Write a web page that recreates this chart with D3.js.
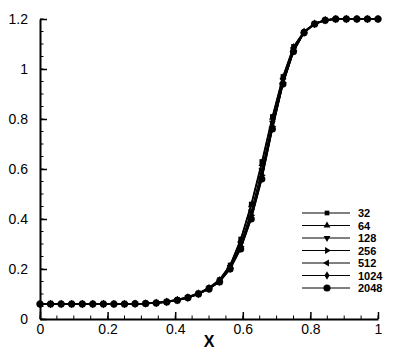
<!DOCTYPE html>
<html><head><meta charset="utf-8">
<script src="https://cdn.jsdelivr.net/npm/d3@7"></script>
<style>body{margin:0;background:#fff}svg{display:block}</style>
</head><body>
<svg id="c" width="399" height="355"></svg>
<script>
const xValues = [0,0.03125,0.0625,0.09375,0.125,0.15625,0.1875,0.21875,0.25,0.28125,0.3125,0.34375,0.375,0.40625,0.4375,0.46875,0.5,0.53125,0.5625,0.59375,0.625,0.65625,0.6875,0.71875,0.75,0.78125,0.8125,0.84375,0.875,0.90625,0.9375,0.96875,1];
const seriesNames = ["32","64","128","256","512","1024","2048"];
const s32   = [0.06,0.06,0.06,0.06,0.06,0.06,0.06,0.06,0.06,0.061,0.062,0.065,0.07,0.078,0.088,0.104,0.126,0.158,0.216,0.32,0.46,0.63,0.81,0.97,1.09,1.15,1.182,1.196,1.2,1.2,1.2,1.2,1.2];
const s64   = [0.06,0.06,0.06,0.06,0.06,0.06,0.06,0.06,0.06,0.061,0.062,0.065,0.07,0.077,0.087,0.103,0.125,0.156,0.213,0.315,0.455,0.62,0.805,0.967,1.088,1.15,1.182,1.196,1.2,1.2,1.2,1.2,1.2];
const s128  = [0.06,0.06,0.06,0.06,0.06,0.06,0.06,0.06,0.06,0.061,0.062,0.064,0.069,0.076,0.086,0.102,0.123,0.153,0.208,0.30,0.43,0.595,0.785,0.955,1.08,1.148,1.181,1.196,1.2,1.2,1.2,1.2,1.2];
const s256  = [0.06,0.06,0.06,0.06,0.06,0.06,0.06,0.06,0.06,0.061,0.062,0.064,0.068,0.075,0.085,0.101,0.121,0.151,0.204,0.29,0.415,0.575,0.77,0.945,1.073,1.146,1.18,1.195,1.2,1.2,1.2,1.2,1.2];
const s512  = [0.06,0.06,0.06,0.06,0.06,0.06,0.06,0.06,0.06,0.061,0.062,0.064,0.068,0.075,0.085,0.1,0.12,0.15,0.202,0.285,0.408,0.567,0.765,0.942,1.071,1.145,1.18,1.195,1.2,1.2,1.2,1.2,1.2];
const s1024 = [0.06,0.06,0.06,0.06,0.06,0.06,0.06,0.06,0.06,0.061,0.062,0.064,0.068,0.075,0.085,0.1,0.12,0.149,0.201,0.282,0.403,0.562,0.762,0.94,1.07,1.145,1.18,1.195,1.2,1.2,1.2,1.2,1.2];
const s2048 = [0.06,0.06,0.06,0.06,0.06,0.06,0.06,0.06,0.06,0.061,0.062,0.064,0.068,0.075,0.085,0.1,0.12,0.148,0.2,0.28,0.40,0.56,0.76,0.94,1.07,1.145,1.18,1.195,1.2,1.2,1.2,1.2,1.2];
const seriesValues = [s32,s64,s128,s256,s512,s1024,s2048];
const xTickLabels = ["0","0.2","0.4","0.6","0.8","1"];
const yTickLabels = ["0","0.2","0.4","0.6","0.8","1","1.2"];
const xLabel = "X";

const svg = d3.select("#c");
const x = d3.scaleLinear().domain([0,1]).range([40,378]);
const y = d3.scaleLinear().domain([0,1.2]).range([319,19]);
const font = "'Liberation Sans', Arial, Helvetica, sans-serif";

// minor ticks
const minor = d3.range(0,1.0001,0.05);
const minorY = d3.range(0,1.2001,0.05);
const gx = svg.append("g").attr("transform","translate(0,319)");
gx.selectAll("line.mn").data(minor).enter().append("line")
  .attr("x1",d=>x(d)).attr("x2",d=>x(d)).attr("y1",0).attr("y2",-3.5)
  .attr("stroke","#000").attr("stroke-width",1);
const gy = svg.append("g").attr("transform","translate(40,0)");
gy.selectAll("line.mn").data(minorY).enter().append("line")
  .attr("y1",d=>y(d)).attr("y2",d=>y(d)).attr("x1",0).attr("x2",3.5)
  .attr("stroke","#000").attr("stroke-width",1);

const xAxis = d3.axisBottom(x).tickValues(xTickLabels.map(Number)).tickFormat((d,i)=>xTickLabels[i])
  .tickSizeInner(-7).tickSizeOuter(0).tickPadding(5);
gx.call(xAxis);
const yAxis = d3.axisLeft(y).tickValues(yTickLabels.map(Number)).tickFormat((d,i)=>yTickLabels[i])
  .tickSizeInner(-7).tickSizeOuter(0).tickPadding(12);
gy.call(yAxis);
[gx,gy].forEach(g=>{
  g.select(".domain").attr("stroke","#000").attr("stroke-width",2);
  g.selectAll(".tick line").attr("stroke","#000").attr("stroke-width",1.5);
  g.selectAll(".tick text").attr("fill","#000").style("font-family",font).style("font-size","14px");
});

svg.append("text").attr("x",x(0.5)).attr("y",347).attr("text-anchor","middle")
  .style("font-family",font).style("font-size","16px").style("font-weight","bold").text(xLabel);

const symbols = [
  d3.symbol().type(d3.symbolSquare).size(22),
  d3.symbol().type(d3.symbolTriangle).size(20),
  d3.symbol().type(d3.symbolTriangle).size(20),
  d3.symbol().type(d3.symbolTriangle).size(20),
  d3.symbol().type(d3.symbolTriangle).size(20),
  d3.symbol().type(d3.symbolDiamond).size(22),
  d3.symbol().type(d3.symbolCircle).size(40)
];
const rot = [0,0,180,90,-90,0,0];
const line = d3.line().x((d,i)=>x(xValues[i])).y(d=>y(d));

seriesValues.forEach((vals,k)=>{
  svg.append("path").attr("d",line(vals)).attr("fill","none").attr("stroke","#000").attr("stroke-width",1.4);
});
seriesValues.forEach((vals,k)=>{
  svg.append("g").selectAll("path").data(vals).enter().append("path")
    .attr("d",symbols[k]())
    .attr("transform",(d,i)=>`translate(${x(xValues[i])},${y(d)}) rotate(${rot[k]})`)
    .attr("fill","#000");
});

// legend
const lg = svg.append("g");
seriesNames.forEach((n,k)=>{
  const yy = 213 + k*12.5;
  lg.append("line").attr("x1",302).attr("x2",350).attr("y1",yy).attr("y2",yy).attr("stroke","#000").attr("stroke-width",1);
  lg.append("path").attr("d",symbols[k]()).attr("transform",`translate(327,${yy}) rotate(${rot[k]})`).attr("fill","#000");
  lg.append("text").attr("x",358).attr("y",yy+4).style("font-family",font).style("font-size","11px").style("font-weight","bold").text(n);
});
</script>
</body></html>
